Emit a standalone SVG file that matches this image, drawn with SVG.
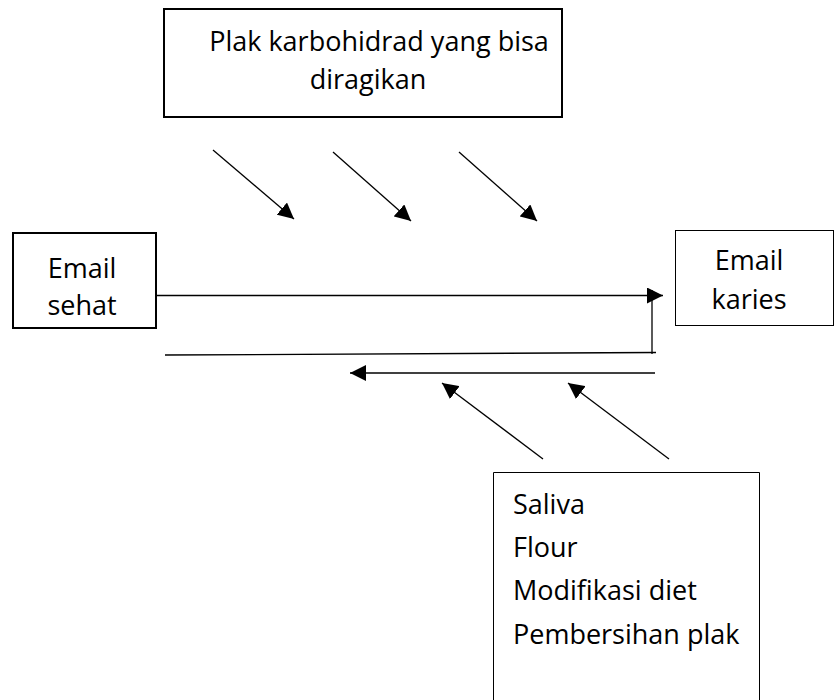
<svg xmlns="http://www.w3.org/2000/svg" width="834" height="700" viewBox="0 0 834 700">
<style>
text{font-family:"Open Sans","Noto Sans",sans-serif;font-size:27px;fill:#000}
.c{text-anchor:middle}
.thick{fill:#fff;stroke:#000;stroke-width:2}
.thin{fill:#fff;stroke:#000;stroke-width:1}
.ln{stroke:#000;stroke-width:1.3;fill:none}
</style>
<defs>
<marker id="ah" viewBox="0 0 10 10" refX="10" refY="5" markerWidth="16" markerHeight="16" markerUnits="userSpaceOnUse" orient="auto">
<path d="M0,0 L10,5 L0,10 Z" fill="#000"/>
</marker>
</defs>
<g id="node-plak">
<rect class="thick" x="164" y="9" width="398" height="108"/>
<text class="c" x="379" y="51">Plak karbohidrad yang bisa</text>
<text class="c" x="368" y="89">diragikan</text>
</g>
<g id="node-email-sehat">
<rect class="thick" x="13" y="233" width="143" height="95"/>
<text class="c" x="82" y="278">Email</text>
<text class="c" x="82" y="315">sehat</text>
</g>
<g id="node-email-karies">
<rect class="thin" x="675.5" y="230.5" width="158" height="95"/>
<text class="c" x="749" y="270">Email</text>
<text class="c" x="749" y="309">karies</text>
</g>
<g id="node-faktor">
<path class="thin" d="M493.5,700 V472.5 H759.5 V700"/>
<text x="513" y="514">Saliva</text>
<text x="513" y="557">Flour</text>
<text x="513" y="600">Modifikasi diet</text>
<text x="513" y="644">Pembersihan plak</text>
</g>
<g id="connectors">
<line class="ln" x1="157" y1="295.5" x2="663" y2="295.5" marker-end="url(#ah)"/>
<line class="ln" x1="652" y1="290" x2="652" y2="354"/>
<line class="ln" x1="165" y1="355" x2="656" y2="352.5"/>
<line class="ln" x1="655" y1="373" x2="350" y2="373" marker-end="url(#ah)"/>
<line class="ln" x1="213" y1="150" x2="294" y2="219" marker-end="url(#ah)"/>
<line class="ln" x1="333" y1="152" x2="411" y2="221" marker-end="url(#ah)"/>
<line class="ln" x1="459" y1="152" x2="537" y2="221" marker-end="url(#ah)"/>
<line class="ln" x1="543" y1="459" x2="442" y2="383" marker-end="url(#ah)"/>
<line class="ln" x1="669" y1="459" x2="568" y2="383" marker-end="url(#ah)"/>
</g>
</svg>
